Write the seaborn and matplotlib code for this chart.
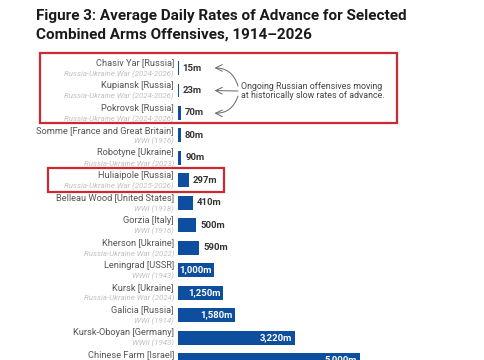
import matplotlib
matplotlib.use("Agg")
import matplotlib.pyplot as plt
import seaborn as sns
import pandas as pd
from matplotlib.patches import Rectangle
from matplotlib.transforms import blended_transform_factory

names = ["Chasiv Yar [Russia]", "Kupiansk [Russia]", "Pokrovsk [Russia]",
         "Somme [France and Great Britain]", "Robotyne [Ukraine]", "Huliaipole [Russia]",
         "Belleau Wood [United States]", "Gorzia [Italy]", "Kherson [Ukraine]",
         "Leningrad [USSR]", "Kursk [Ukraine]", "Galicia [Russia]",
         "Kursk-Oboyan [Germany]", "Chinese Farm [Israel]"]
wars = ["Russia-Ukraine War (2024-2026)", "Russia-Ukraine War (2024-2026)",
        "Russia-Ukraine War (2024-2026)", "WWI (1916)", "Russia-Ukraine War (2023)",
        "Russia-Ukraine War (2025-2026)", "WWI (1918)", "WWI (1916)",
        "Russia-Ukraine War (2022)", "WWII (1943)", "Russia-Ukraine War (2024)",
        "WWI (1914)", "WWII (1943)", "Yom Kippur War (1973)"]
rates = [15, 23, 70, 80, 90, 297, 410, 500, 590, 1000, 1250, 1580, 3220, 5000]
value_labels = ["15m", "23m", "70m", "80m", "90m", "297m", "410m", "500m", "590m",
                "1,000m", "1,250m", "1,580m", "3,220m", "5,000m"]

df = pd.DataFrame({"name": names, "rate": rates})

sns.set_theme(style="white")
plt.rcParams["font.family"] = ["Roboto", "DejaVu Sans"]

W, H = 485, 360
fig = plt.figure(figsize=(W / 100, H / 100), dpi=100)
fig.patch.set_facecolor("white")

ax_left, ax_right, ax_top = 178, 478, 53
ax = fig.add_axes([ax_left / W, 0, (ax_right - ax_left) / W, 1 - ax_top / H])
blue = "#0d4f9e"
sns.barplot(data=df, x="rate", y="name", orient="h", color=blue, width=0.62,
            saturation=1, ax=ax, edgecolor="none", linewidth=0)
ax.set_xlim(0, (ax_right - ax_left) / 0.0363)
ax.set_ylim(13, -0.67)
ax.axis("off")

trans = blended_transform_factory(ax.transAxes, ax.transData)
for i, (n, w, v, lab) in enumerate(zip(names, wars, rates, value_labels)):
    ax.annotate(n, xy=(0, i), xycoords=trans, xytext=(-4, 5), textcoords="offset pixels",
                ha="right", va="center", fontsize=6.7, color="#555555")
    ax.annotate(w, xy=(0, i), xycoords=trans, xytext=(-4, -6), textcoords="offset pixels",
                ha="right", va="center", fontsize=5.7, color="#c0c0c0", style="italic")
    if v >= 1000:
        ax.annotate(lab, xy=(v, i), xytext=(-3, 0), textcoords="offset pixels",
                    ha="right", va="center", fontsize=6.8, color="white", fontweight="bold")
    else:
        ax.annotate(lab, xy=(v, i), xytext=(4, 0), textcoords="offset pixels",
                    ha="left", va="center", fontsize=6.8, color="#333333", fontweight="bold")

# annotation with arrows
ax.text(241 / W, 1 - 91 / H, "Ongoing Russian offensives moving\nat historically slow rates of advance.",
        transform=fig.transFigure, ha="left", va="center", fontsize=6.4, color="#444444",
        linespacing=1.0)
for i, rad, sy in zip([0, 1, 2], [0.4, 0.0, -0.4], [86, 91, 96]):
    ax.annotate("", xy=(930, i), xycoords="data",
                xytext=(238 / W, 1 - sy / H), textcoords="figure fraction",
                arrowprops=dict(arrowstyle="->", color="#666666", lw=0.7,
                                connectionstyle=f"arc3,rad={rad}", shrinkA=0, shrinkB=2))

# red highlight boxes
for (x0, y0, x1, y1) in [(40, 53, 397, 123), (48, 168, 224, 192)]:
    fig.patches.append(Rectangle((x0 / W, 1 - y1 / H), (x1 - x0) / W, (y1 - y0) / H,
                                 transform=fig.transFigure, fill=False,
                                 edgecolor="#c92a33", linewidth=1.6))

fig.text(36 / W, 1 - 16 / H, "Figure 3: Average Daily Rates of Advance for Selected",
         ha="left", va="center", fontsize=11, fontweight="bold", color="#1a1a1a")
fig.text(36 / W, 1 - 35 / H, "Combined Arms Offensives, 1914\u20132026",
         ha="left", va="center", fontsize=11, fontweight="bold", color="#1a1a1a")

fig.savefig("out.png", dpi=100, facecolor="white")
